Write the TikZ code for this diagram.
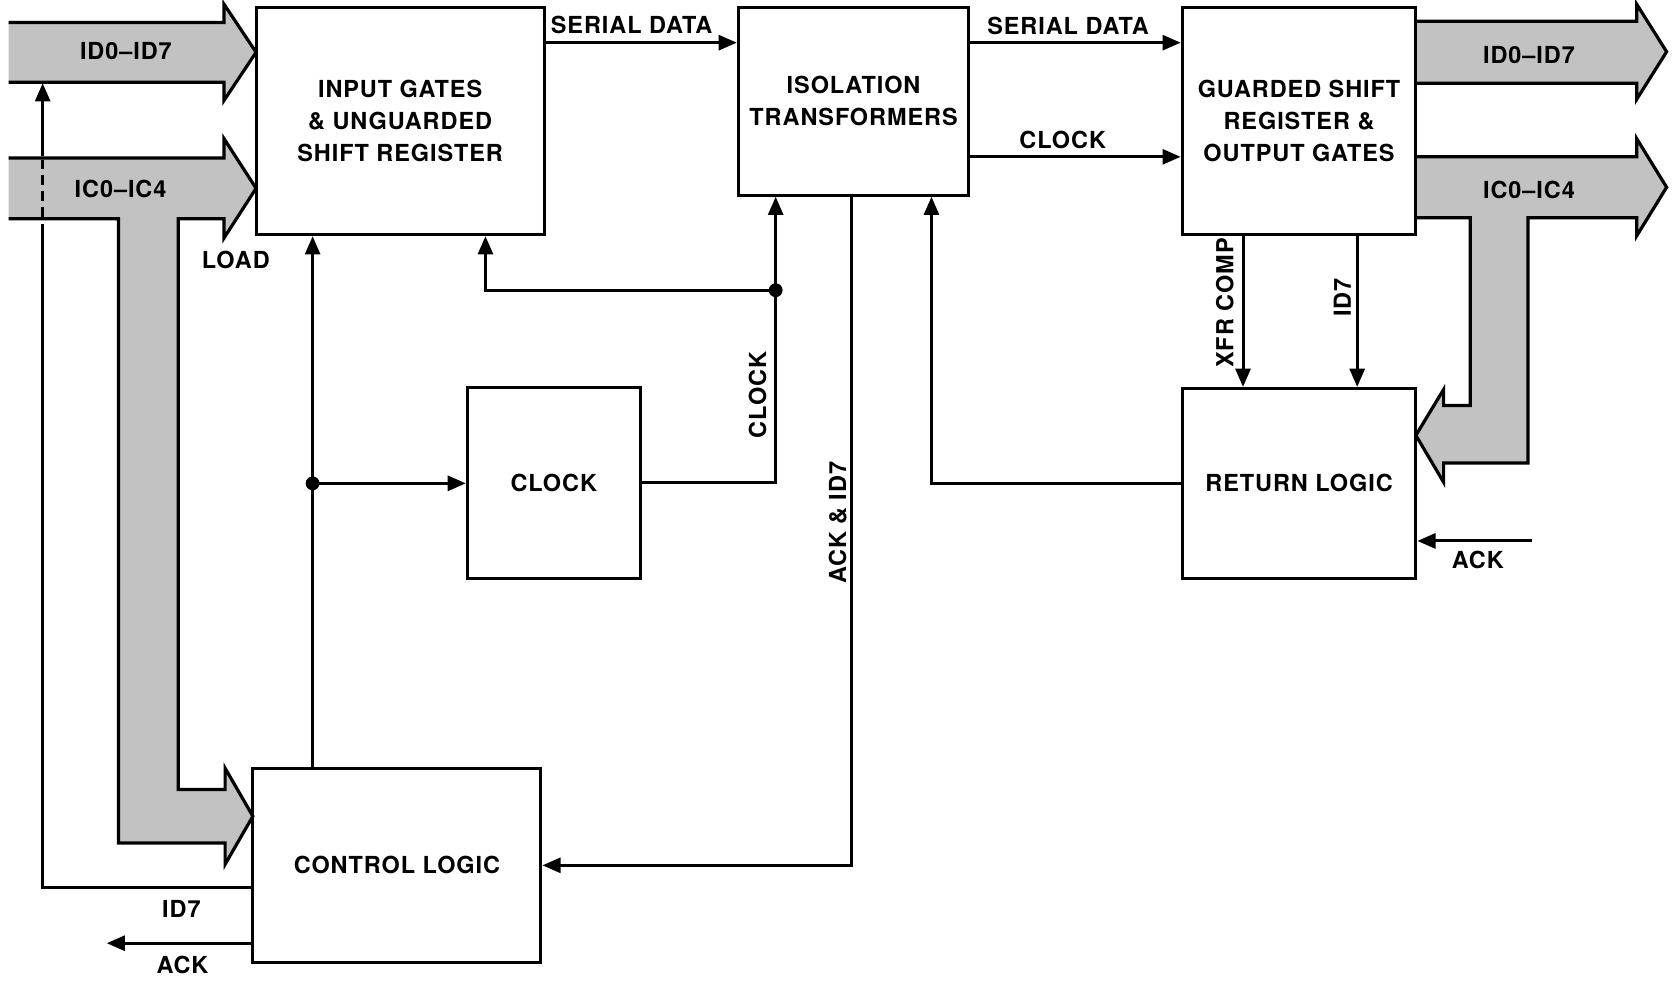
\documentclass[tikz,border=0pt]{standalone}
\usepackage{fontspec}
\newfontfamily\lab{TeX Gyre Heros}[LetterSpace=4]
\usetikzlibrary{arrows.meta,calc}
\begin{document}
\begin{tikzpicture}[x=0.5pt,y=-0.5pt,
  box/.style={draw,line width=1.4pt,align=center,inner sep=0pt,font=\lab\bfseries\fontsize{11}{15}\selectfont},
  wire/.style={line width=1.4pt},
  arr/.style={line width=1.4pt,-{Triangle[length=8.5pt,width=7pt]}},
  lbl/.style={font=\lab\bfseries\fontsize{11}{15}\selectfont,inner sep=0pt},
  bus/.style={fill=black!24},
  busline/.style={line width=1.5pt,line join=miter},
  dot/.style={fill=black}]
\useasboundingbox[fill=white] (0,0) rectangle (1568,919);

% buses
\fill[bus] (8,21) -- (210,21) -- (210,4) -- (240,49) -- (210,94) -- (210,77) -- (8,77) -- cycle;
\draw[busline] (8,21) -- (210,21) -- (210,4) -- (240,49) -- (210,94) -- (210,77) -- (8,77);
\fill[bus] (8,148) -- (210,148) -- (210,130) -- (240,176.5) -- (210,223) -- (210,205) -- (167,205) -- (167,740) -- (211,740) -- (211,720) -- (237,765) -- (211,810) -- (211,790) -- (111,790) -- (111,205) -- (8,205) -- cycle;
\draw[busline] (8,148) -- (210,148) -- (210,130) -- (240,176.5) -- (210,223) -- (210,205) -- (167,205) -- (167,740) -- (211,740) -- (211,720) -- (237,765) -- (211,810) -- (211,790) -- (111,790) -- (111,205) -- (8,205);
\fill[bus] (1327,20) -- (1534,20) -- (1534,4) -- (1562,48.5) -- (1534,93) -- (1534,78) -- (1327,78) -- cycle;
\draw[busline] (1327,20) -- (1534,20) -- (1534,4) -- (1562,48.5) -- (1534,93) -- (1534,78) -- (1327,78);
\fill[bus] (1327,147) -- (1534,147) -- (1534,130) -- (1562,175.5) -- (1534,221) -- (1534,204) -- (1432,204) -- (1432,434) -- (1353,434) -- (1353,452) -- (1327,408) -- (1353,365) -- (1353,380) -- (1378,380) -- (1378,204) -- (1327,204) -- cycle;
\draw[busline] (1327,147) -- (1534,147) -- (1534,130) -- (1562,175.5) -- (1534,221) -- (1534,204) -- (1432,204) -- (1432,434) -- (1353,434) -- (1353,452) -- (1327,408) -- (1353,365) -- (1353,380) -- (1378,380) -- (1378,204) -- (1327,204);

\node[lbl] (bl1) at (118,48) {ID0–ID7};
\node[lbl] (bl2) at (113,177) {IC0–IC4};
\node[lbl] (br1) at (1433,52) {ID0–ID7};
\node[lbl] (br2) at (1433,178) {IC0–IC4};

% boxes
\node[box,minimum width=135pt,minimum height=106.5pt] (ig) at (375,113.5) {INPUT GATES\\\&~UNGUARDED\\SHIFT REGISTER};
\node[box,minimum width=108pt,minimum height=88pt] (it) at (800,95) {ISOLATION\\TRANSFORMERS};
\node[box,minimum width=109.5pt,minimum height=106.5pt] (gs) at (1217.5,113.5) {GUARDED SHIFT\\REGISTER \&\\OUTPUT GATES};
\node[box,minimum width=81pt,minimum height=89.5pt] (clk) at (519,452.5) {CLOCK};
\node[box,minimum width=109.5pt,minimum height=89pt] (rl) at (1217.5,453) {RETURN LOGIC};
\node[box,minimum width=135pt,minimum height=91pt] (cl) at (372,811) {CONTROL LOGIC};

% connectors
\coordinate (sd) at (0,40);
\coordinate (ck) at (0,147);
\draw[arr] (ig.east |- sd) -- (it.west |- sd);
\draw[arr] (it.east |- sd) -- (gs.west |- sd);
\draw[arr] (it.east |- ck) -- (gs.west |- ck);
\node[lbl] (lsd1) at (592,23) {SERIAL DATA};
\node[lbl] (lsd2) at (1001,24) {SERIAL DATA};
\node[lbl] (lck) at (996,131) {CLOCK};

\coordinate (j1) at (727,272);
\coordinate (j1b) at (455,272);
\draw[arr] (clk.east) -| (it.south -| j1);
\draw[arr] (j1) -| (ig.south -| j1b);
\fill[dot] (j1) circle (6.5);
\node[lbl,rotate=90] (lck2) at (710,370) {CLOCK};

\coordinate (j2) at (293,453);
\draw[arr] (cl.north -| j2) -- (ig.south -| j2);
\draw[arr] (j2) -- (clk.west |- j2);
\fill[dot] (j2) circle (6.5);
\node[lbl] (lload) at (221,244) {LOAD};

\coordinate (a7) at (798,811);
\draw[arr] (it.south -| a7) |- (cl.east);
\node[lbl,rotate=90] (lack7) at (785,490) {ACK \& ID7};

\coordinate (r1) at (873,453);
\draw[arr] (rl.west) -| (it.south -| r1);

\coordinate (xf) at (1165,0);
\coordinate (x7) at (1272,0);
\draw[arr] (gs.south -| xf) -- (rl.north -| xf);
\draw[arr] (gs.south -| x7) -- (rl.north -| x7);
\node[lbl,rotate=90] (lxfr) at (1148,284) {XFR COMP};
\node[lbl,rotate=90] (lid7r) at (1258,279) {ID7};

\coordinate (ackr) at (1436,507);
\draw[arr] (ackr) -- (rl.east |- ackr);
\node[lbl] (lackr) at (1385,525) {ACK};

% ID7 return on the left
\coordinate (i7) at (40,832);
\coordinate (i7a) at (40,210);
\coordinate (i7b) at (40,203);
\coordinate (i7c) at (40,150);
\coordinate (i7d) at (40,146);
\coordinate (i7top) at (40,78);
\draw[wire] (cl.west |- i7) -- (i7) -- (i7a);
\draw[wire,dash pattern=on 4.5pt off 3pt] (i7b) -- (i7c);
\draw[arr] (i7d) -- (i7top);
\node[lbl] (lid7l) at (170,852) {ID7};

\coordinate (acko) at (100,884);
\draw[arr] (cl.west |- acko) -- (acko);
\node[lbl] (lackl) at (171,904) {ACK};
\end{tikzpicture}
\end{document}
